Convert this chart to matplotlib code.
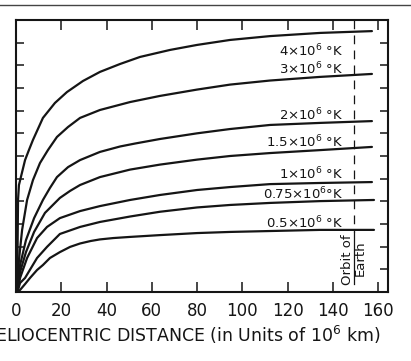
import numpy as np
import matplotlib
matplotlib.use('Agg')
import matplotlib.pyplot as plt
from matplotlib.lines import Line2D

plt.rcParams['font.family'] = ['DejaVu Sans']
plt.rcParams['mathtext.fontset'] = 'dejavusans'

# distance (10^6 km) and velocity, one pair of lists per temperature
x_4 = [0.6, 0.7, 0.9, 1.3, 4.0, 5.7, 7.5, 11.9, 17.2, 22.5, 29.6, 37.1, 46.0,
       54.8, 68.1, 80.0, 94.6, 112.3, 134.4, 157.3]
v_4 = [0, 200, 406, 472, 582, 626, 671, 768, 834, 882, 931, 971, 1006,
       1037, 1068, 1090, 1112, 1129, 1143, 1151]

x_3 = [0.6, 1.3, 2.7, 4.9, 7.5, 10.6, 14.1, 18.1, 23.0, 28.3, 37.1, 50.4,
       63.6, 80.0, 94.6, 112.3, 134.4, 157.3]
v_3 = [0, 141, 274, 406, 494, 569, 626, 684, 728, 768, 803, 838,
       865, 893, 915, 933, 949, 962]

x_2 = [0.6, 1.8, 4.4, 8.0, 11.9, 15.0, 18.1, 23.0, 28.3, 37.1, 46.0, 52.6,
       63.6, 80.0, 94.6, 112.3, 134.4, 157.3]
v_2 = [0, 119, 229, 326, 406, 459, 507, 551, 582, 618, 642, 655,
       675, 700, 719, 737, 746, 754]

x_15 = [0.6, 1.8, 4.4, 8.0, 12.8, 19.4, 23.9, 28.3, 37.1, 50.4, 63.6, 80.0,
        94.6, 112.3, 134.4, 157.3]
v_15 = [0, 88, 176, 265, 349, 415, 446, 472, 507, 540, 562, 584,
        600, 613, 626, 640]

x_1 = [0.6, 1.8, 4.9, 9.3, 13.7, 19.4, 28.3, 37.1, 50.4, 63.6, 80.0, 94.6,
       112.3, 134.4, 157.3]
v_1 = [0, 62, 150, 238, 287, 326, 357, 379, 406, 428, 450, 463,
       476, 481, 485]

x_075 = [0.6, 1.8, 4.0, 9.3, 13.7, 19.4, 28.3, 37.1, 50.4, 63.6, 80.0, 94.6,
         112.3, 134.4, 158.2]
v_075 = [0, 40, 62, 150, 199, 256, 287, 309, 333, 354, 373, 384,
         393, 401, 406]

x_05 = [0.6, 1.8, 4.0, 6.2, 9.3, 11.9, 15.0, 19.4, 23.9, 28.3, 33.0, 37.1,
        43.0, 50.4, 63.6, 80.0, 94.6, 112.3, 134.4, 158.2]
v_05 = [0, 9, 35, 62, 97, 119, 150, 176, 199, 214, 225, 232,
        238, 243, 251, 260, 265, 269, 274, 274]

labels = [r'4$\times$10$^6$ °K', r'3$\times$10$^6$ °K', r'2$\times$10$^6$ °K',
          r'1.5$\times$10$^6$ °K', r'1$\times$10$^6$ °K', r'0.75$\times$10$^6$°K',
          r'0.5$\times$10$^6$ °K']
label_y = [1063, 984, 781, 662, 521, 432, 304]

xticks = [0, 20, 40, 60, 80, 100, 120, 140, 160]
earth_orbit = 149.4

fig = plt.figure(figsize=(4.11, 3.61), dpi=100)
ax = fig.add_axes([16/411, 1-292/361, 372/411, 272/361])

ink = '#151515'
for xs, vs in [(x_4, v_4), (x_3, v_3), (x_2, v_2), (x_15, v_15),
               (x_1, v_1), (x_075, v_075), (x_05, v_05)]:
    ax.plot(xs, vs, color=ink, lw=1.6, solid_capstyle='round',
            solid_joinstyle='round')

for lab, yy in zip(labels, label_y):
    ax.text(144.5, yy, lab, ha='right', va='center', fontsize=9.5, color=ink)

# orbit of earth
ax.plot([earth_orbit, earth_orbit], [1200, 265], color=ink, lw=0.9,
        dashes=(7, 5))
ax.plot([earth_orbit, earth_orbit], [265, 35], color=ink, lw=0.9)
ax.text(146.6, 143, 'Orbit of', rotation=90, ha='center', va='center',
        fontsize=9.5, color=ink)
ax.text(152.1, 150, 'Earth', rotation=90, ha='center', va='center',
        fontsize=9.5, color=ink)

ax.set_xlim(0, 164.4)
ax.set_ylim(0, 1200)
ax.set_xticks(xticks)
ax.set_xticklabels([str(t) for t in xticks])
ax.set_yticks(np.arange(0, 1201, 100))
ax.set_yticklabels([])
ax.tick_params(axis='x', direction='in', length=7.5, width=1.1, top=True,
               labelsize=12, pad=7, colors=ink)
ax.tick_params(axis='y', direction='in', length=6, width=1.1, right=True,
               colors=ink)
for s in ax.spines.values():
    s.set_linewidth(1.5)
    s.set_color(ink)

# the scan crops the start of this label at the left edge
fig.text(380/411, 1-342/361, r'HELIOCENTRIC DISTANCE (in Units of 10$^6$ km)',
         ha='right', va='baseline', fontsize=12.5, color=ink)

# rule across the top of the page
fig.add_artist(Line2D([0, 1], [1-5/361, 1-5/361], color='#444444', lw=1.0,
                      transform=fig.transFigure))

fig.savefig('out.png', dpi=100)
